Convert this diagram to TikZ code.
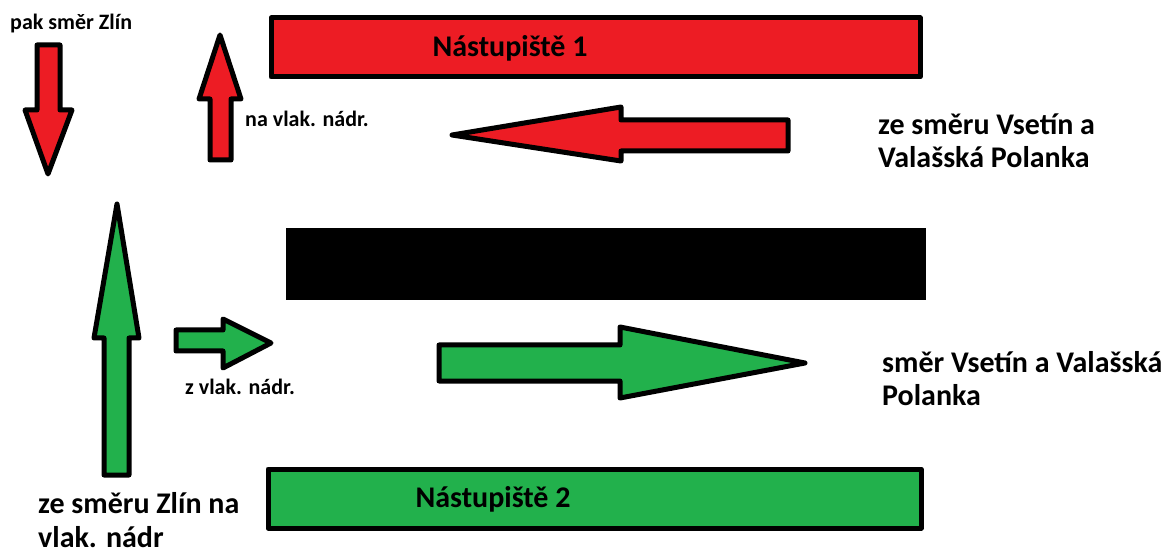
\documentclass[tikz,border=0pt]{standalone}
\usepackage{fontspec}
\setmainfont{Carlito}
\definecolor{pred}{HTML}{ED1C24}
\definecolor{pgreen}{HTML}{22B14C}
\begin{document}
\begin{tikzpicture}[x=1pt,y=-1pt,
  shp/.style={draw=black,line width=5pt,line join=round},
  redshp/.style={shp,fill=pred},
  greenshp/.style={shp,fill=pgreen},
  bigtxt/.style={font=\fontsize{30}{33}\selectfont\bfseries,inner sep=0pt,anchor=base west},
  smalltxt/.style={font=\fontsize{22}{26}\selectfont\bfseries,inner sep=0pt,anchor=base west},
  plattxt/.style={font=\fontsize{30}{34}\selectfont\bfseries,inner sep=0pt}]
\useasboundingbox (0,0) rectangle (1173,553);
% platforms
\draw[redshp] (271,18) rectangle (920,77);
\fill[black] (286,228) rectangle (926,300);
\draw[greenshp] (268,469) rectangle (921,528);
\node[plattxt] (p1) at (510,48) {Nástupiště 1};
\node[plattxt] (p2) at (493,499) {Nástupiště 2};
% red down arrow (left)
\draw[redshp] (37,45) -- (60,45) -- (60,110) -- (72,110) -- (48,174) -- (25,110) -- (37,110) -- cycle;
% red up arrow (middle)
\draw[redshp] (210,160) -- (231,160) -- (231,99) -- (241,99) -- (220,35) -- (199,99) -- (210,99) -- cycle;
% red left arrow
\draw[redshp] (788,120) -- (788,151) -- (621,151) -- (621,161) -- (452,135) -- (621,107) -- (621,120) -- cycle;
% green up arrow
\draw[greenshp] (104,475) -- (129,475) -- (129,338) -- (139,338) -- (117,204) -- (94,338) -- (104,338) -- cycle;
% green small right arrow
\draw[greenshp] (176,330) -- (223,330) -- (223,319) -- (271,343) -- (223,368) -- (223,351) -- (176,351) -- cycle;
% green big right arrow
\draw[greenshp] (439,345) -- (620,345) -- (620,327) -- (805,363) -- (620,398) -- (620,381) -- (439,381) -- cycle;
% labels
\node[smalltxt] (t1) at (10,30) {pak směr Zlín};
\node[smalltxt] (t2) at (245,127) {na vlak. nádr.};
\node[smalltxt] (t3) at (185,394) {z vlak. nádr.};
\node[bigtxt] (t4a) at (878,135) {ze směru Vsetín a};
\node[bigtxt] (t4b) at (878,168) {Valašská Polanka};
\node[bigtxt] (t5a) at (882,372) {směr Vsetín a Valašská};
\node[bigtxt] (t5b) at (882,405) {Polanka};
\node[bigtxt] (t6a) at (38,513) {ze směru Zlín na};
\node[bigtxt] (t6b) at (38,547) {vlak. nádr};
\end{tikzpicture}
\end{document}
